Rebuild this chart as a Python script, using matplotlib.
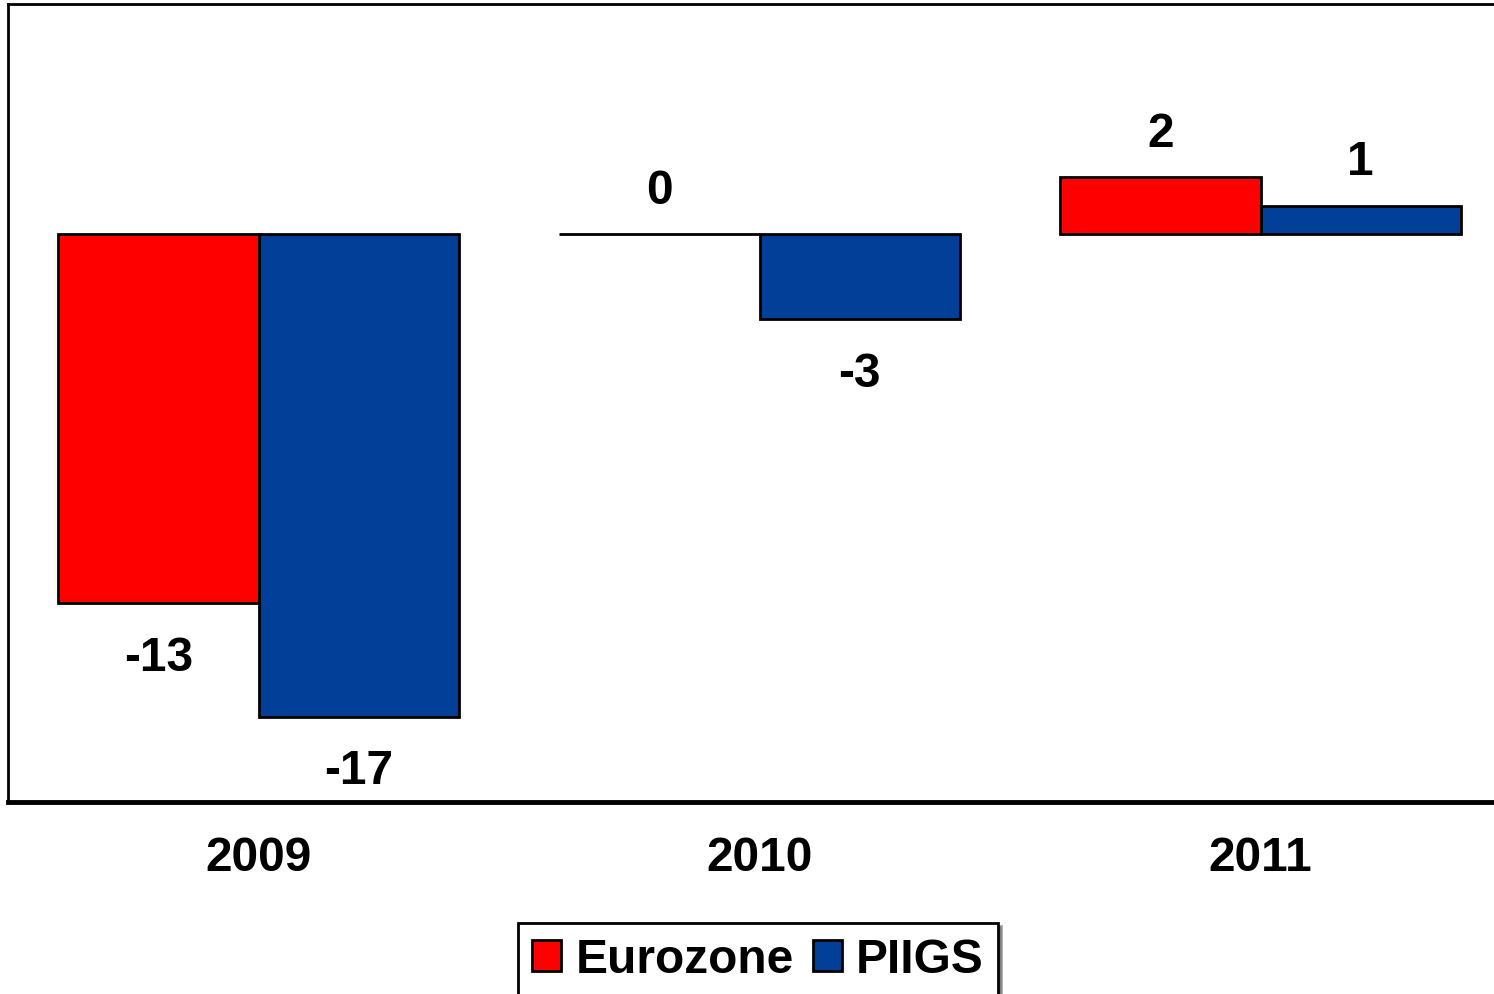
import matplotlib
matplotlib.use("Agg")
import matplotlib.pyplot as plt
import numpy as np

years = ["2009", "2010", "2011"]
eurozone = [-13, 0, 2]
piigs = [-17, -3, 1]

plt.rcParams["font.family"] = ["Liberation Sans", "DejaVu Sans"]
plt.rcParams["font.weight"] = "bold"
FS = 34.5

fig = plt.figure(figsize=(14.94, 9.95), dpi=100)
ax = fig.add_axes([8 / 1494, 192 / 995, 1503 / 1494, 798 / 995])

x = np.arange(len(years))
w = 0.4
b1 = ax.bar(x - w / 2, eurozone, w, color="#FF0000", edgecolor="black", lw=2, label="Eurozone")
b2 = ax.bar(x + w / 2, piigs, w, color="#023F99", edgecolor="black", lw=2, label="PIIGS")

# value labels above positive / zero bars, below negative ones
for bars, vals in ((b1, eurozone), (b2, piigs)):
    for r, v in zip(bars, vals):
        cx = r.get_x() + r.get_width() / 2
        off = 1.55 if v >= 0 else -1.9
        ax.text(cx, v + off, f"{v}", ha="center", va="center", fontsize=FS, fontweight="bold")

ax.set_xlim(-0.5, 2.5)
ax.set_ylim(-20, 8.1)
ax.set_xticks(x)
ax.set_xticklabels(years, fontsize=FS, fontweight="bold")
ax.tick_params(axis="x", length=0, pad=24)
ax.set_yticks([])
for s in ("left", "top", "right"):
    ax.spines[s].set_linewidth(2)
ax.spines["bottom"].set_linewidth(3.5)

leg = fig.legend(loc="center", bbox_to_anchor=(758 / 1494, 1 - 961 / 995), ncol=2,
                 fontsize=FS, frameon=True, fancybox=False, shadow=True,
                 handlelength=0.6, handleheight=0.6, handletextpad=0.3,
                 columnspacing=0.4, borderpad=0.3, borderaxespad=0)
leg.get_frame().set_edgecolor("black")
leg.get_frame().set_linewidth(2)
for t in leg.get_texts():
    t.set_fontweight("bold")

fig.savefig("out.png", dpi=100)
